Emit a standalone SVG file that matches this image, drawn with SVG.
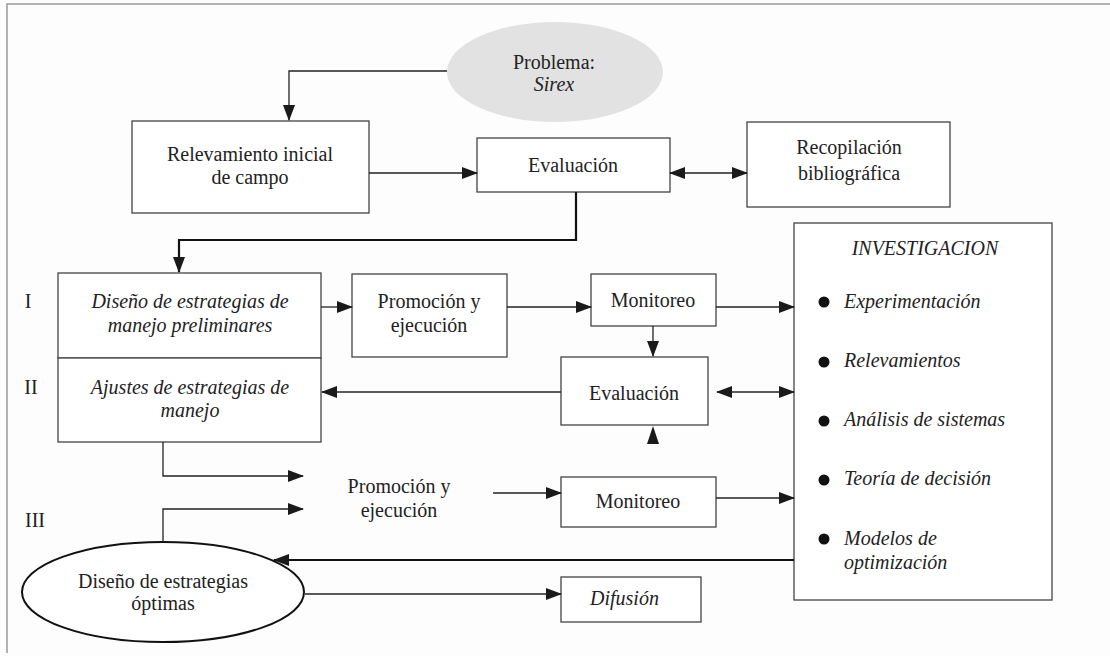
<svg xmlns="http://www.w3.org/2000/svg" width="1110" height="656" viewBox="0 0 1110 656">
<defs>
<marker id="ah" markerUnits="userSpaceOnUse" markerWidth="16" markerHeight="12" refX="15" refY="6" orient="auto-start-reverse" viewBox="0 0 16 12">
<path d="M0,0 L16,6 L0,12 Z" fill="#1a1a1a"/>
</marker>
</defs>
<style>
text{font-family:"Liberation Serif","Times New Roman",serif;font-size:20px;fill:#222;text-anchor:middle}
.it{font-style:italic}
.st{text-anchor:start}
.box{fill:#fff;stroke:#444;stroke-width:1.3}
.ln{fill:none;stroke:#222;stroke-width:1.3}
.thk{fill:none;stroke:#111;stroke-width:2.2}
.frame{fill:none;stroke:#9a9a9a;stroke-width:1.5}
</style>
<rect width="1110" height="656" fill="#fdfdfd"/>
<g id="frame">
<path class="frame" d="M7,653 L7,4 L1110,4"/>
</g>
<g id="problema">
<ellipse cx="555" cy="72" rx="108" ry="50" fill="#e2e2e2"/>
<text x="554" y="69">Problema:</text>
<text x="554" y="91" class="it">Sirex</text>
</g>
<g id="relevamiento">
<rect class="box" x="132" y="121" width="237" height="92"/>
<text x="250" y="161">Relevamiento inicial</text>
<text x="250" y="184">de campo</text>
</g>
<g id="evaluacion1">
<rect class="box" x="477" y="138" width="193" height="54"/>
<text x="573" y="172">Evaluación</text>
</g>
<g id="recopilacion">
<rect class="box" x="747" y="122" width="203" height="85"/>
<text x="849" y="154">Recopilación</text>
<text x="849" y="180">bibliográfica</text>
</g>
<g id="investigacion">
<rect class="box" x="794" y="223" width="258" height="377"/>
<text x="925" y="255" class="it">INVESTIGACION</text>
<circle cx="824" cy="302" r="5.5" fill="#111"/>
<text x="844" y="308" class="it st">Experimentación</text>
<circle cx="824" cy="362" r="5.5" fill="#111"/>
<text x="844" y="367" class="it st">Relevamientos</text>
<circle cx="824" cy="421" r="5.5" fill="#111"/>
<text x="844" y="426" class="it st">Análisis de sistemas</text>
<circle cx="824" cy="480" r="5.5" fill="#111"/>
<text x="844" y="485" class="it st">Teoría de decisión</text>
<circle cx="824" cy="539" r="5.5" fill="#111"/>
<text x="844" y="545" class="it st">Modelos de</text>
<text x="844" y="569" class="it st">optimización</text>
</g>
<g id="labels">
<text x="28" y="308">I</text>
<text x="31" y="394">II</text>
<text x="35" y="527">III</text>
</g>
<g id="diseno-preliminar">
<rect class="box" x="58" y="273" width="263" height="85"/>
<text x="190" y="308" class="it">Diseño de estrategias de</text>
<text x="190" y="332" class="it">manejo preliminares</text>
</g>
<g id="ajustes">
<rect class="box" x="58" y="358" width="263" height="84"/>
<text x="190" y="394" class="it">Ajustes de estrategias de</text>
<text x="190" y="417" class="it">manejo</text>
</g>
<g id="promocion1">
<rect class="box" x="352" y="274" width="155" height="83"/>
<text x="429" y="308">Promoción y</text>
<text x="429" y="332">ejecución</text>
</g>
<g id="monitoreo1">
<rect class="box" x="591" y="274" width="125" height="52"/>
<text x="653" y="307">Monitoreo</text>
</g>
<g id="evaluacion2">
<rect class="box" x="561" y="357" width="147" height="68"/>
<text x="634" y="400">Evaluación</text>
</g>
<g id="promocion2">
<text x="399" y="493">Promoción y</text>
<text x="399" y="517">ejecución</text>
</g>
<g id="monitoreo2">
<rect class="box" x="561" y="477" width="155" height="50"/>
<text x="638" y="508">Monitoreo</text>
</g>
<g id="diseno-optimas">
<ellipse cx="163" cy="592" rx="141" ry="50" fill="#fff" stroke="#111" stroke-width="2"/>
<text x="163" y="588">Diseño de estrategias</text>
<text x="163" y="610">óptimas</text>
</g>
<g id="difusion">
<rect class="box" x="561" y="577" width="140" height="45"/>
<text x="590" y="605" class="it st">Difusión</text>
</g>
<g id="connectors">
<path class="ln" d="M447,71 L289,71 L289,120" marker-end="url(#ah)"/>
<path class="ln" d="M369,173 L477,173" marker-end="url(#ah)"/>
<path class="ln" d="M670,173 L747,173" marker-start="url(#ah)" marker-end="url(#ah)"/>
<path class="thk" d="M576,192 L576,240 L179,240 L179,272" marker-end="url(#ah)"/>
<path class="ln" d="M321,307 L352,307" marker-end="url(#ah)"/>
<path class="ln" d="M507,307 L591,307" marker-end="url(#ah)"/>
<path class="ln" d="M716,307 L794,307" marker-end="url(#ah)"/>
<path class="ln" d="M653,326 L653,356" marker-end="url(#ah)"/>
<path class="ln" d="M561,392 L322,392" marker-end="url(#ah)"/>
<path class="ln" d="M717,392 L794,392" marker-start="url(#ah)" marker-end="url(#ah)"/>
<path d="M653,426 L659,444 L647,444 Z" fill="#1a1a1a"/>
<path class="ln" d="M163,442 L163,476 L303,476" marker-end="url(#ah)"/>
<path class="ln" d="M163,542 L163,509 L303,509" marker-end="url(#ah)"/>
<path class="ln" d="M493,493 L561,493" marker-end="url(#ah)"/>
<path class="ln" d="M716,498 L794,498" marker-end="url(#ah)"/>
<path class="thk" d="M794,560 L274,560" marker-end="url(#ah)"/>
<path class="ln" d="M305,594 L561,594" marker-end="url(#ah)"/>
</g>
</svg>
